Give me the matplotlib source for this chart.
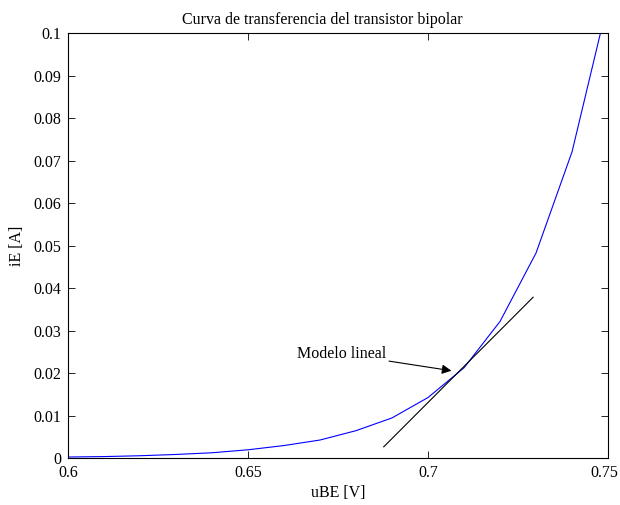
import matplotlib

matplotlib.use("Agg")
import matplotlib.pyplot as plt
import matplotlib.transforms as mtransforms
import numpy as np

# curva de transferencia (lectura del grafico)
uBE = [0.60, 0.61, 0.62, 0.63, 0.64, 0.65, 0.66, 0.67,
       0.68, 0.69, 0.70, 0.71, 0.72, 0.73, 0.74, 0.75]
iE = [0.0003, 0.0004, 0.0006, 0.0009, 0.0013, 0.0020, 0.0030, 0.0043,
      0.0065, 0.0095, 0.0143, 0.0213, 0.0322, 0.0483, 0.0721, 0.1075]

# recta tangente (modelo lineal)
lin_u = [0.6877, 0.7292]
lin_i = [0.0027, 0.0379]

plt.rcParams["font.family"] = ["Liberation Serif", "DejaVu Serif"]
plt.rcParams["font.size"] = 11.5

fig = plt.figure(figsize=(6.2, 5.05), dpi=100)
ax = fig.add_axes([0.1097, 0.0925, 0.871, 0.8416])

ax.plot(uBE, iE, color="blue", lw=0.8)
ax.plot(lin_u, lin_i, color="black", lw=0.8)
ax.annotate("Modelo lineal", xy=(0.7065, 0.0206), xytext=(0.6884, 0.0227),
            ha="right", va="bottom",
            arrowprops=dict(arrowstyle="-|>", color="black", lw=0.8,
                            mutation_scale=14, shrinkA=0, shrinkB=0))

ax.set_xlim(0.6, 0.75)
ax.set_ylim(0, 0.1)
ax.set_xticks(np.arange(0.6, 0.7501, 0.05))
ax.set_yticks(np.arange(0, 0.1001, 0.01))
ax.set_xticklabels(["0.6", "0.65", "0.7", "0.75"])
ax.set_yticklabels(["0"] + [f"{v:.2f}" for v in np.arange(0.01, 0.0901, 0.01)] + ["0.1"])
ax.tick_params(direction="in", top=True, right=True, length=5, width=0.6, pad=5)
for s in ax.spines.values():
    s.set_linewidth(0.8)

# la etiqueta 0.75 queda pegada al borde: correrla un poco a la izquierda
lab = ax.get_xticklabels()[-1]
lab.set_transform(lab.get_transform() + mtransforms.ScaledTranslation(-4 / 100, 0, fig.dpi_scale_trans))

ax.set_xlabel("uBE [V]", labelpad=3)
ax.set_ylabel("iE [A]", labelpad=6)
ax.set_title("Curva de transferencia del transistor bipolar", fontsize=11.5, pad=7, x=0.47)

fig.savefig("out.png", dpi=100)
